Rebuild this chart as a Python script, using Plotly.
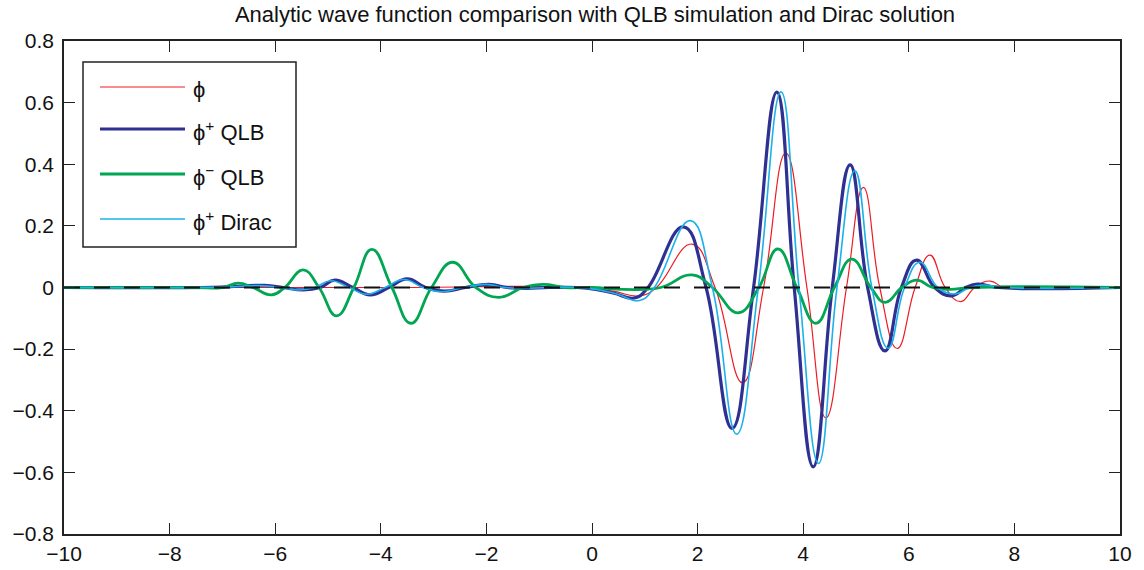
import plotly.graph_objects as go

# ---- data ----
phi_x = [-10, -4, -0.2, 0.4, 0.9, 1.22, 1.89, 2.33, 2.85, 3.25, 3.67, 4.07, 4.43, 4.82, 5.14,
         5.45, 5.78, 6.12, 6.40, 6.69, 6.98, 7.25, 7.54, 7.79, 8.07, 8.5, 10]
phi_y = [0, 0, 0, -0.012, -0.027, 0, 0.141, 0, -0.309, 0, 0.436, 0, -0.423, 0, 0.325,
         0, -0.198, 0, 0.105, 0, -0.046, 0, 0.021, 0, -0.005, 0, 0]

qlb_plus_x = [-10, -7.4, -6.9, -6.2, -5.85, -5.47, -5.15, -4.87, -4.53, -4.2, -3.85, -3.5, -3.15,
              -2.8, -2.4, -1.95, -1.6, -1.25, -0.8, -0.1, 0.4, 0.8, 1.06, 1.73, 2.16, 2.65, 3.06,
              3.50, 3.83, 4.19, 4.55, 4.89, 5.22, 5.55, 5.86, 6.15, 6.49, 6.81, 7.08, 7.30, 7.7, 10]
qlb_plus_y = [0, 0, 0.002, 0.007, 0, -0.008, 0, 0.024, 0, -0.024, 0, 0.028, 0,
              -0.012, 0, 0.010, 0, -0.003, 0, -0.002, -0.018, -0.034, 0, 0.197, 0, -0.457, 0,
              0.634, 0, -0.582, 0, 0.398, 0, -0.206, 0, 0.089, 0, -0.027, 0, 0.011, 0, 0]

qlb_minus_x = [-10, -7.6, -7.0, -6.70, -6.42, -6.07, -5.82, -5.47, -5.17, -4.84, -4.51, -4.17,
               -3.79, -3.43, -3.04, -2.64, -2.2, -1.77, -1.3, -0.92, -0.5, 0.0, 0.6, 1.3, 1.89,
               2.28, 2.77, 3.16, 3.52, 3.88, 4.24, 4.59, 4.92, 5.28, 5.55, 5.87, 6.15, 6.45,
               6.78, 7.2, 10]
qlb_minus_y = [0, 0, 0, 0.014, 0, -0.024, 0, 0.057, 0, -0.092, 0, 0.124,
               0, -0.116, 0, 0.082, 0, -0.032, 0, 0.010, 0, 0.0, -0.006, 0, 0.041,
               0, -0.082, 0, 0.125, 0, -0.116, 0, 0.092, 0, -0.048, 0, 0.024, 0,
               -0.006, 0, 0]

dirac_x = [-10, -7.5, -6.9, -6.3, -5.9, -5.55, -5.25, -4.95, -4.6, -4.27, -3.92, -3.56, -3.2,
           -2.85, -2.45, -2.0, -1.65, -1.3, -0.8, -0.1, 0.45, 0.9, 1.18, 1.86, 2.28, 2.74, 3.15,
           3.58, 3.92, 4.29, 4.64, 4.98, 5.30, 5.61, 5.92, 6.21, 6.55, 6.88, 7.15, 7.4, 7.8, 10]
dirac_y = [0, 0, 0.002, 0.006, 0, -0.008, 0, 0.022, 0, -0.022, 0, 0.026, 0,
           -0.014, 0, 0.010, 0, -0.003, 0, -0.002, -0.02, -0.042, 0, 0.217, 0, -0.476, 0,
           0.635, 0, -0.571, 0, 0.379, 0, -0.197, 0, 0.082, 0, -0.021, 0, 0.008, 0, 0]

zero_x = [-10, 10]
zero_y = [0, 0]

legend_labels = ["ϕ", "ϕ<sup>+</sup> QLB", "ϕ<sup>−</sup> QLB", "ϕ<sup>+</sup> Dirac"]
x_ticks = [-10, -8, -6, -4, -2, 0, 2, 4, 6, 8, 10]
y_ticks = [-0.8, -0.6, -0.4, -0.2, 0, 0.2, 0.4, 0.6, 0.8]

# ---- styling ----
FONT = "Liberation Sans, Arial, Helvetica, DejaVu Sans, sans-serif"
colors = ["#ed1c24", "#2e3192", "#00a651", "#1cb0ea"]
widths = [1.2, 3.2, 2.8, 1.6]

fig = go.Figure()
series = [(phi_x, phi_y), (qlb_plus_x, qlb_plus_y), (qlb_minus_x, qlb_minus_y), (dirac_x, dirac_y)]
for (xs, ys), c, w, name in zip(series, colors, widths, legend_labels):
    fig.add_trace(go.Scatter(x=xs, y=ys, mode="lines", name=name,
                             line=dict(color=c, width=w, shape="spline", smoothing=1.3),
                             showlegend=False))
fig.add_trace(go.Scatter(x=zero_x, y=zero_y, mode="lines",
                         line=dict(color="#111111", width=2.2, dash="16px,14px"),
                         showlegend=False))

axis_common = dict(showgrid=False, zeroline=False, showline=True, linecolor="#222222",
                   linewidth=1.5, mirror="ticks", ticks="inside", ticklen=11,
                   tickwidth=1.2, tickcolor="#222222", automargin=False,
                   tickfont=dict(family=FONT, size=21, color="#111111"))
fig.update_xaxes(range=[-10, 10], tickvals=x_ticks, **axis_common)
fig.update_yaxes(range=[-0.8, 0.8], tickvals=y_ticks, ticklabelstandoff=4, **axis_common)

# custom legend box (MATLAB style)
L, R, T, B = 64, 1120, 41, 534
def px(x):
    return (x - L) / (R - L)
def py(y):
    return (B - y) / (B - T)

shapes = [dict(type="rect", xref="paper", yref="paper", x0=px(83), x1=px(296),
               y0=py(247), y1=py(62), line=dict(color="#222222", width=1.5),
               fillcolor="white", layer="above")]
rows = [87, 129, 174, 219]
annotations = []
for r, c, w, lab in zip(rows, colors, widths, legend_labels):
    shapes.append(dict(type="line", xref="paper", yref="paper", x0=px(100), x1=px(185),
                       y0=py(r), y1=py(r), line=dict(color=c, width=w), layer="above"))
    annotations.append(dict(xref="paper", yref="paper", x=px(191), y=py(r + 2),
                            xanchor="left", yanchor="middle", text=lab, showarrow=False,
                            font=dict(family=FONT, size=22, color="#111111")))

fig.update_layout(
    width=1144, height=570,
    margin=dict(l=L, r=1144 - R, t=T, b=570 - B),
    paper_bgcolor="white", plot_bgcolor="white",
    title=dict(text="Analytic wave function comparison with QLB simulation and Dirac solution",
               x=px(595), xref="paper", xanchor="center", y=1 - 14 / 570, yref="container",
               yanchor="middle", font=dict(family=FONT, size=22, color="#111111")),
    shapes=shapes, annotations=annotations,
)

fig.write_html("out.html")
